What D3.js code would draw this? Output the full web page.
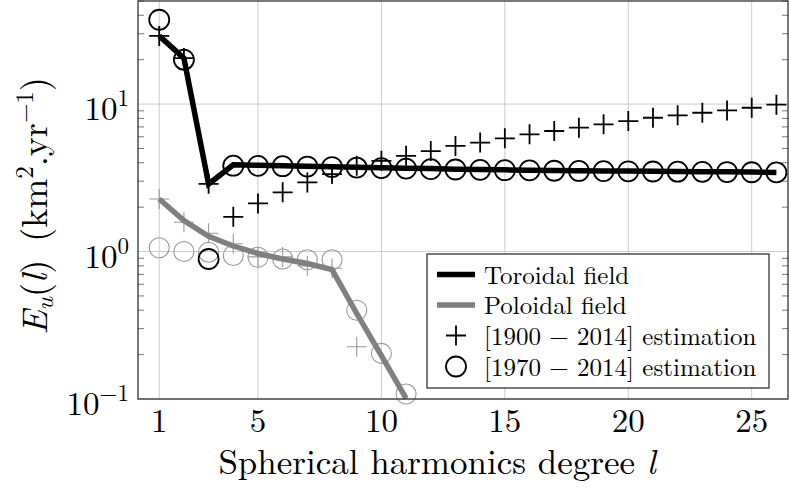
<!DOCTYPE html>
<html><head><meta charset="utf-8">
<script src="https://cdn.jsdelivr.net/npm/d3@7"></script>
<style>
html,body{margin:0;padding:0;background:#fff;}
svg{display:block;}
</style></head>
<body><svg id="chart" width="789" height="488"></svg>
<script>
// ---- data ----
const degrees = [1,2,3,4,5,6,7,8,9,10,11,12,13,14,15,16,17,18,19,20,21,22,23,24,25,26];
const toroidalField = [29.0,20.5,2.87,3.87,3.85,3.82,3.79,3.76,3.73,3.70,3.67,3.65,3.62,3.60,3.58,3.56,3.55,3.53,3.52,3.51,3.50,3.49,3.48,3.47,3.46,3.44];
const toroidal1900 = [29.0,20.5,2.88,1.72,2.12,2.52,2.94,3.35,3.81,4.12,4.46,4.80,5.20,5.48,5.86,6.24,6.57,6.92,7.29,7.67,8.08,8.39,8.73,9.06,9.44,9.90];
const toroidal1970 = [37.3,20.0,0.89,3.82,3.81,3.79,3.77,3.74,3.71,3.68,3.65,3.62,3.60,3.58,3.56,3.55,3.53,3.52,3.51,3.50,3.49,3.48,3.47,3.46,3.45,3.44];
const poloidalDegrees = [1,2,3,4,5,6,7,8,9,10,11];
const poloidalField = [2.27,1.62,1.27,1.09,0.97,0.89,0.83,0.755,0.38,0.197,0.101];
const poloidal1900Degrees = [1,2,3,4,5,6,7,8,9];
const poloidal1900 = [2.27,1.58,1.33,1.13,0.92,0.92,0.80,0.77,0.226];
const poloidal1970 = [1.06,1.00,0.99,0.94,0.915,0.89,0.88,0.88,0.40,0.204,0.108];
const xTicks = [1,5,10,15,20,25];
const yTicks = [0.1,1,10];
const yTickExp = ["−1","0","1"];
const legendLabels = ["Toroidal field","Poloidal field","[1900 − 2014] estimation","[1970 − 2014] estimation"];

// ---- layout ----
const FONT = "'Latin Modern Roman'";
const L = 138, R = 788, T = 1, B = 399;
const svg = d3.select("#chart");
const x = d3.scaleLinear().domain([0.14, 26.47]).range([L, R]);
const y = d3.scaleLog().domain([0.1, 50]).range([B, T]);
const gridColor = "#cccccc";
const greyLine = "#808080";
const greyMark = "#9a9a9a";

// grid
const g = svg.append("g");
g.selectAll("line.vx").data(xTicks).enter().append("line")
  .attr("x1", d=>x(d)).attr("x2", d=>x(d)).attr("y1", T).attr("y2", B)
  .attr("stroke", gridColor).attr("stroke-width", 1);
g.selectAll("line.hy").data(yTicks).enter().append("line")
  .attr("x1", L).attr("x2", R).attr("y1", d=>y(d)).attr("y2", d=>y(d))
  .attr("stroke", gridColor).attr("stroke-width", 1);

// minor ticks (log)
const minor = [];
[0.1,1,10].forEach(dec=>{ for(let k=2;k<=9;k++){ const v=dec*k; if(v<=50) minor.push(v);} });
const tickColor = "#555";
g.selectAll("line.ml").data(minor).enter().append("line")
  .attr("x1", L).attr("x2", L+6).attr("y1", d=>y(d)).attr("y2", d=>y(d))
  .attr("stroke", tickColor).attr("stroke-width", 0.8);
g.selectAll("line.mr").data(minor).enter().append("line")
  .attr("x1", R-6).attr("x2", R).attr("y1", d=>y(d)).attr("y2", d=>y(d))
  .attr("stroke", tickColor).attr("stroke-width", 0.8);

function plus(sel, data, xs, color, sw, size){
  const gg = sel.append("g").attr("stroke", color).attr("stroke-width", sw).attr("fill","none");
  data.forEach((v,i)=>{
    const cx = x(xs[i]), cy = y(v);
    gg.append("path").attr("d", `M${cx-size},${cy}H${cx+size}M${cx},${cy-size}V${cy+size}`);
  });
}
function circles(sel, data, xs, color, sw, r){
  sel.append("g").selectAll("circle").data(data).enter().append("circle")
    .attr("cx", (d,i)=>x(xs[i])).attr("cy", d=>y(d)).attr("r", r)
    .attr("fill","none").attr("stroke", color).attr("stroke-width", sw);
}
const line = d3.line().x(d=>x(d[0])).y(d=>y(d[1]));

plus(svg, poloidal1900, poloidal1900Degrees, greyMark, 1.1, 10);
circles(svg, poloidal1970, poloidalDegrees, greyMark, 1.1, 10);
svg.append("path").datum(poloidalDegrees.map((d,i)=>[d,poloidalField[i]]))
  .attr("d", line).attr("fill","none").attr("stroke", greyLine).attr("stroke-width", 5.5);
svg.append("path").datum(degrees.map((d,i)=>[d,toroidalField[i]]))
  .attr("d", line).attr("fill","none").attr("stroke", "#000").attr("stroke-width", 5.5);
plus(svg, toroidal1900, degrees, "#000", 1.8, 10);
circles(svg, toroidal1970, degrees, "#000", 1.8, 10);

// frame
svg.append("rect").attr("x", L).attr("y", T).attr("width", R-L).attr("height", B-T)
  .attr("fill","none").attr("stroke","#333").attr("stroke-width",1.3);

// x tick labels
svg.append("g").selectAll("text").data(xTicks).enter().append("text")
  .style("font-family", FONT)
  .attr("x", d=>x(d)).attr("y", 432).attr("text-anchor","middle")
  .attr("font-size", 33).attr("fill","#000").text(d=>d);

// y tick labels
const yl = svg.append("g").selectAll("text").data(yTicks).enter().append("text")
  .style("font-family", FONT)
  .attr("x", 129).attr("y", d=>y(d)+16).attr("text-anchor","end")
  .attr("font-size", 33).attr("fill","#000");
yl.append("tspan").text("10");
yl.append("tspan").attr("font-size", 23).attr("dy", -14).text((d,i)=>yTickExp[i]);

// x axis label
const xl = svg.append("text").style("font-family", FONT)
  .attr("x", 437).attr("y", 474).attr("text-anchor","middle")
  .attr("font-size", 35).attr("fill","#000");
xl.append("tspan").text("Spherical harmonics degree ");
xl.append("tspan").attr("font-style","italic").text("l");

// y axis label
const ylab = svg.append("text").style("font-family", FONT)
  .attr("transform","translate(47,206) rotate(-90)")
  .attr("text-anchor","middle").attr("font-size", 36).attr("fill","#000");
ylab.append("tspan").attr("font-style","italic").text("E");
ylab.append("tspan").attr("font-style","italic").attr("font-size",25).attr("dy",6).text("u");
ylab.append("tspan").attr("dy",-6).text("(");
ylab.append("tspan").attr("font-style","italic").text("l");
ylab.append("tspan").text(")\u00a0(km");
ylab.append("tspan").attr("font-size",25).attr("dy",-14).text("2");
ylab.append("tspan").attr("dy",14).text(".yr");
ylab.append("tspan").attr("font-size",25).attr("dy",-14).text("−1");
ylab.append("tspan").attr("dy",14).text(")");

// legend
const lg = svg.append("g");
const lx = 427, ly = 254, lw = 342, lh = 134;
lg.append("rect").attr("x", lx).attr("y", ly).attr("width", lw).attr("height", lh)
  .attr("fill","#fff").attr("stroke","#222").attr("stroke-width",1.2);
const rowY = [274.5, 305, 335.5, 366.5];
lg.append("line").attr("x1",437).attr("x2",475).attr("y1",rowY[0]).attr("y2",rowY[0]).attr("stroke","#000").attr("stroke-width",5.5);
lg.append("line").attr("x1",437).attr("x2",475).attr("y1",rowY[1]).attr("y2",rowY[1]).attr("stroke",greyLine).attr("stroke-width",5.5);
lg.append("path").attr("d",`M446,${rowY[2]}H466M456,${rowY[2]-10}V${rowY[2]+10}`).attr("stroke","#000").attr("stroke-width",1.8).attr("fill","none");
lg.append("circle").attr("cx",456).attr("cy",rowY[3]).attr("r",10).attr("fill","none").attr("stroke","#000").attr("stroke-width",1.8);
lg.selectAll("text").data(legendLabels).enter().append("text").style("font-family", FONT)
  .attr("x", 484).attr("y",(d,i)=>rowY[i]+9).attr("font-size",25).attr("fill","#000").text(d=>d);
</script></body></html>
